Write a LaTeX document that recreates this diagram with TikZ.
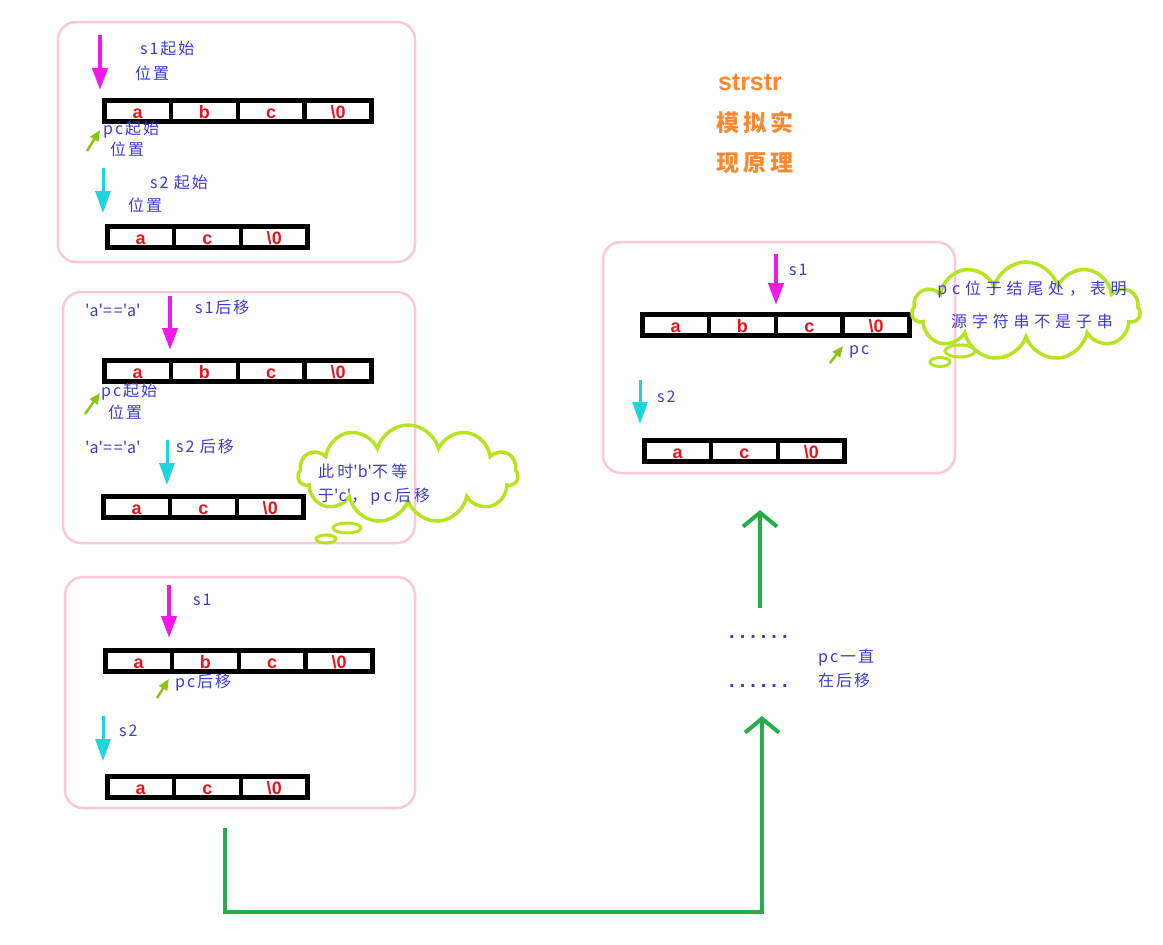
\documentclass[tikz,border=0pt]{standalone}
\usepackage{fontspec}
\newfontfamily\cjk{Noto Sans CJK SC}[LetterSpace=12]
\newfontfamily\cellfont{Liberation Sans}
\usetikzlibrary{arrows.meta, shapes.symbols, shapes.geometric, calc, positioning}
\definecolor{panelpink}{RGB}{250,200,218}
\definecolor{notegreen}{RGB}{182,228,32}
\definecolor{pathgreen}{RGB}{38,172,72}
\definecolor{labelblue}{RGB}{60,60,205}
\definecolor{cellred}{RGB}{235,20,30}
\definecolor{sonemag}{RGB}{240,25,235}
\definecolor{stwocyan}{RGB}{28,214,220}
\definecolor{pcgreen}{RGB}{140,195,20}
\definecolor{titleorange}{RGB}{255,135,45}
\tikzset{
panel/.style={draw=panelpink, line width=2.5pt, rounded corners=18pt},
cellbox/.style={draw, line width=4.5pt, minimum width=66.8pt, minimum height=21pt, inner sep=0pt,
  text height=15pt, text depth=0pt,
  anchor=north west, text=cellred, font=\cellfont\bfseries\fontsize{18}{18}\selectfont},
lbl/.style={anchor=west, inner sep=0pt, text=labelblue, font=\cjk\fontsize{16}{24}\selectfont},
sone/.style={draw=sonemag, line width=4pt, -{Triangle[length=22pt,width=15pt]}},
stwo/.style={draw=stwocyan, line width=3pt, -{Triangle[length=22pt,width=15pt]}},
pcarrow/.style={draw=pcgreen, line width=2.5pt, -{Triangle[length=11pt,width=9pt]}},
note/.style={cloud, cloud puffs=11, cloud ignores aspect, draw=notegreen, line width=3.5pt},
bubble/.style={ellipse, draw=notegreen, line width=3pt, inner sep=0pt},
flow/.style={draw=pathgreen, line width=4pt, -{Straight Barb[length=14pt,width=34pt]}},
}
\newcommand{\chararray}[3]{%
  \foreach \ch [count=\i] in {#3}
    \node[cellbox] (#1-\i) at ($(#2)+(\i*66.8-66.8,0)$) {\ch};
}
\newcommand{\q}{\textquotesingle}
\newcommand{\dotrow}{.\hspace{5pt}.\hspace{5pt}.\hspace{5pt}.\hspace{5pt}.\hspace{5pt}.}

\begin{document}
\begin{tikzpicture}[x=1pt, y=-1pt]
\useasboundingbox (0,0) rectangle (1163,945);

% panels
\draw[panel] (58,22) rectangle (415,262);
\draw[panel] (63,292) rectangle (415,543);
\draw[panel] (65,577) rectangle (415,808);
\draw[panel] (603,242) rectangle (955,473);

% title
\node[text=titleorange, font=\cellfont\bfseries\fontsize{25}{25}\selectfont] (title) at (750,82) {strstr};
\node[text=titleorange, font=\cjk\bfseries\fontsize{23}{23}\selectfont] (title2) at (755,123) {模\hspace{4pt}拟\hspace{4pt}实};
\node[text=titleorange, font=\cjk\bfseries\fontsize{23}{23}\selectfont] (title3) at (755,163) {现\hspace{4pt}原\hspace{4pt}理};

% first step
\chararray{pa}{102,98}{a,b,c,\textbackslash 0}
\chararray{pb}{105,224}{a,c,\textbackslash 0}
\coordinate (pa-s1) at (100,35);   \coordinate (pa-s1e) at (100,90);
\coordinate (pa-pc) at (87,151);   \coordinate (pa-pce) at (100,130);
\coordinate (pb-s2) at (103,168);  \coordinate (pb-s2e) at (103,213);
\draw[sone] (pa-s1) -- (pa-s1e);
\draw[pcarrow] (pa-pc) -- (pa-pce);
\draw[stwo] (pb-s2) -- (pb-s2e);
\node[lbl] (pa-t1) at (140,48) {s1起始};
\node[lbl] (pa-t2) at (135,73) {位置};
\node[lbl] (pa-t3) at (103,130) {pc起始};
\node[lbl] (pa-t4) at (110,149) {位置};
\node[lbl] (pb-t1) at (150,182) {s2 起始};
\node[lbl] (pb-t2) at (128,205) {位置};

% second step
\chararray{qa}{102,358}{a,b,c,\textbackslash 0}
\chararray{qb}{101,494}{a,c,\textbackslash 0}
\coordinate (qa-s1) at (170,296);  \coordinate (qa-s1e) at (170,350);
\coordinate (qa-pc) at (85,414);   \coordinate (qa-pce) at (100,393);
\coordinate (qb-s2) at (167,440);  \coordinate (qb-s2e) at (167,485);
\draw[sone] (qa-s1) -- (qa-s1e);
\draw[pcarrow] (qa-pc) -- (qa-pce);
\draw[stwo] (qb-s2) -- (qb-s2e);
\node[lbl] (qa-t1) at (85,310) {\q a\q==\q a\q};
\node[lbl] (qa-t2) at (195,307) {s1后移};
\node[lbl] (qa-t3) at (101,392) {pc起始};
\node[lbl] (qa-t4) at (108,412) {位置};
\node[lbl] (qb-t1) at (85,447) {\q a\q==\q a\q};
\node[lbl] (qb-t2) at (176,446) {s2 后移};
\node[note, minimum width=220pt, minimum height=98pt] (qnote) at (408,474) {};
\node[bubble, minimum width=28pt, minimum height=10pt] (qbub1) at (347,528) {};
\node[bubble, minimum width=20pt, minimum height=8pt] (qbub2) at (326,539) {};
\node[lbl, align=left, font=\cjk\fontsize{16}{24}\selectfont\addfontfeature{LetterSpace=20}] (qnote-t) at (318,485) {此时\q b\q 不等\\于\q c\q ，pc后移};

% third step
\chararray{ra}{103,648}{a,b,c,\textbackslash 0}
\chararray{rb}{105,774}{a,c,\textbackslash 0}
\coordinate (ra-s1) at (169,585);  \coordinate (ra-s1e) at (169,638);
\coordinate (ra-pc) at (157,698);  \coordinate (ra-pce) at (169,679);
\coordinate (rb-s2) at (103,716);  \coordinate (rb-s2e) at (103,761);
\draw[sone] (ra-s1) -- (ra-s1e);
\draw[pcarrow] (ra-pc) -- (ra-pce);
\draw[stwo] (rb-s2) -- (rb-s2e);
\node[lbl] (ra-t1) at (193,600) {s1};
\node[lbl] (ra-t2) at (175,683) {pc后移};
\node[lbl] (rb-t1) at (119,731) {s2};

% last step
\chararray{ea}{640,312}{a,b,c,\textbackslash 0}
\chararray{eb}{642,438}{a,c,\textbackslash 0}
\coordinate (ea-s1) at (776,254);  \coordinate (ea-s1e) at (776,305);
\coordinate (ea-pc) at (830,363);  \coordinate (ea-pce) at (843,346);
\coordinate (eb-s2) at (640,380);  \coordinate (eb-s2e) at (640,424);
\draw[sone] (ea-s1) -- (ea-s1e);
\draw[pcarrow] (ea-pc) -- (ea-pce);
\draw[stwo] (eb-s2) -- (eb-s2e);
\node[lbl] (ea-t1) at (789,270) {s1};
\node[lbl] (ea-t2) at (849,352) {pc};
\node[lbl] (eb-t1) at (657,397) {s2};
\node[note, minimum width=228pt, minimum height=98pt] (enote) at (1026,311) {};
\node[bubble, minimum width=30pt, minimum height=12pt] (ebub1) at (960,351) {};
\node[bubble, minimum width=20pt, minimum height=9pt] (ebub2) at (940,362) {};
\node[lbl, anchor=center, align=center, font=\cjk\fontsize{16}{33}\selectfont\addfontfeature{LetterSpace=30}] (enote-t) at (1032,305) {pc位于结尾处，表明\\源字符串不是子串};

% skipped steps
\node[lbl, font=\cellfont\bfseries\fontsize{20}{20}\selectfont] (dots1) at (729,637) {\dotrow};
\node[lbl, font=\cellfont\bfseries\fontsize{20}{20}\selectfont] (dots2) at (729,686) {\dotrow};
\node[lbl, align=left] (dots-t) at (818,668) {pc一直\\在后移};

\coordinate (start) at (225,828);
\coordinate (turn1) at (225,912);
\coordinate (turn2) at (762,912);
\coordinate (land) at (762,716);
\coordinate (up) at (760,608);
\coordinate (upe) at (760,510);
\draw[flow] (start) -- (turn1) -- (turn2) -- (land);
\draw[flow] (up) -- (upe);
\end{tikzpicture}
\end{document}
